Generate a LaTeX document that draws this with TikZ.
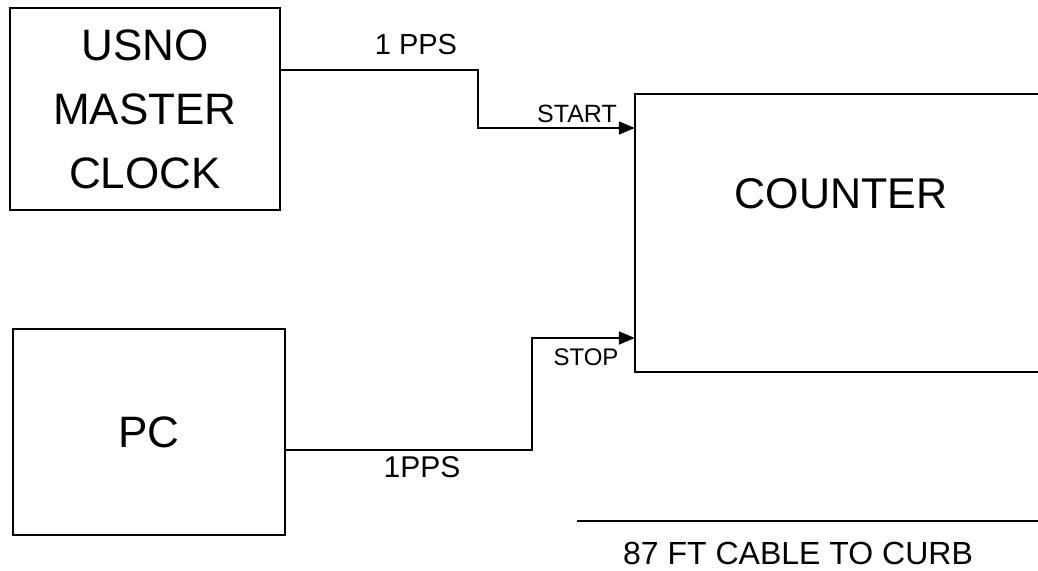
\documentclass[tikz,border=0pt]{standalone}
\usepackage{fontspec}
\setmainfont{Liberation Sans}
\usetikzlibrary{arrows.meta}
\begin{document}
\begin{tikzpicture}[x=1pt,y=-1pt,
  boxnode/.style={draw,line width=2pt,rectangle,inner sep=0pt,align=center},
  wire/.style={line width=1.8pt},
  arr/.style={wire,-{Triangle[length=16pt,width=13pt]}},
  bigtxt/.style={font=\fontsize{44}{64}\selectfont},
  lbl/.style={inner sep=0pt}]
\useasboundingbox (0,0) rectangle (1038,570);
% boxes
\node[boxnode,bigtxt,minimum width=270pt,minimum height=202pt] (usno) at (145,109) {USNO\\MASTER\\CLOCK};
\node[boxnode,bigtxt,minimum width=272pt,minimum height=206pt] (pc) at (149,432) {PC};
\node[rectangle,inner sep=0pt,minimum width=403pt,minimum height=278pt] (counter) at (836.5,233) {};
\draw[line width=2pt] (counter.north east) -- (counter.north west) -- (counter.south west) -- (counter.south east);
\node[lbl,font=\fontsize{43}{50}\selectfont] (countertxt) at (841,194) {COUNTER};
% helper coordinates
\coordinate (y1) at (0,70);
\coordinate (y2) at (0,128);
\coordinate (y3) at (0,338);
\coordinate (y4) at (0,450);
\coordinate (j1) at (478,70);
\coordinate (j2) at (532,450);
% connectors
\draw[arr] (usno.east |- y1) -- (j1) -- (j1 |- y2) -- (counter.west |- y2);
\draw[arr] (pc.east |- y4) -- (j2) -- (j2 |- y3) -- (counter.west |- y3);
% labels
\node[lbl,font=\fontsize{29}{32}\selectfont] (l1) at (416,45) {1 PPS};
\node[lbl,font=\fontsize{25}{28}\selectfont] (lstart) at (577,114) {START};
\node[lbl,font=\fontsize{24}{28}\selectfont] (lstop) at (586,357) {STOP};
\node[lbl,font=\fontsize{30}{34}\selectfont] (l2) at (422,467) {1PPS};
% cable
\coordinate (cableL) at (577,521);
\coordinate (cableR) at (1038,521);
\draw[wire] (cableL) -- (cableR);
\node[lbl,font=\fontsize{32}{36}\selectfont] (cable) at (798,553) {87 FT CABLE TO CURB};
\end{tikzpicture}
\end{document}
